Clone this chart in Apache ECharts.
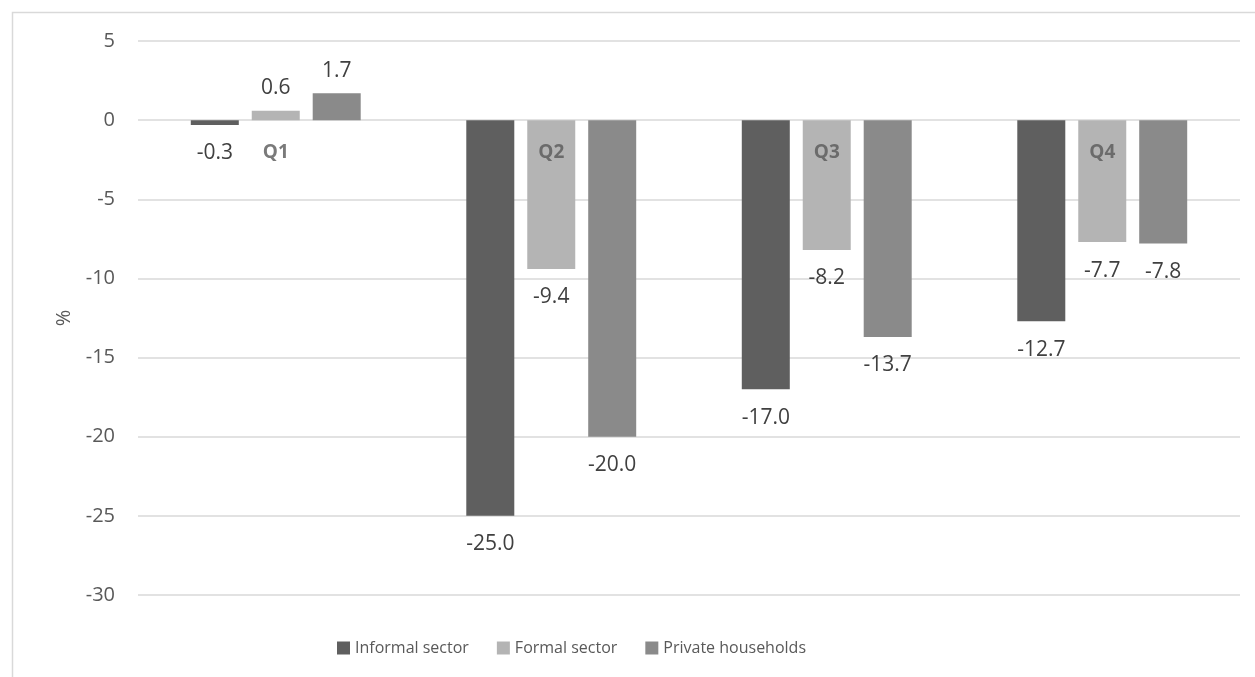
<!DOCTYPE html>
<html>
<head>
<meta charset="utf-8">
<script src="https://cdn.jsdelivr.net/npm/echarts@6/dist/echarts.min.js"></script>
<style>
html,body{margin:0;padding:0;background:#fff;}
#chart{width:1255px;height:677px;}
</style>
</head>
<body>
<div id="chart"></div>
<script>
var categories = ['Q1', 'Q2', 'Q3', 'Q4'];
var informal = [-0.3, -25.0, -17.0, -12.7];
var formal = [0.6, -9.4, -8.2, -7.7];
var privateHH = [1.7, -20.0, -13.7, -7.8];
var seriesNames = ['Informal sector', 'Formal sector', 'Private households'];
var colors = ['#5f5f5f', '#b4b4b4', '#8a8a8a'];
var baseline = 0;

var FONT = 'Open Sans';

function mkData(arr) {
  return arr.map(function (v) {
    return {
      value: v,
      label: v < 0 ? { position: 'bottom', distance: 18 } : { position: 'top', distance: 12 }
    };
  });
}

function mkSeries(name, arr, color) {
  return {
    name: name,
    type: 'bar',
    barWidth: 48,
    barGap: '27%',
    itemStyle: { color: color },
    label: {
      show: true,
      fontFamily: FONT,
      fontSize: 21,
      color: '#404040',
      formatter: function (p) { return p.value.toFixed(1); }
    },
    data: mkData(arr)
  };
}

var chart = echarts.init(document.getElementById('chart'), null, { renderer: 'canvas' });
chart.setOption({
  animation: false,
  backgroundColor: '#ffffff',
  textStyle: { fontFamily: FONT },
  graphic: [{
    type: 'rect',
    left: 10, top: 10,
    shape: { width: 1300, height: 700 },
    style: { fill: 'none', stroke: '#d9d9d9', lineWidth: 1.5 },
    silent: true
  }],
  grid: { left: 138, right: 15, top: 41, bottom: 82 },
  legend: {
    left: 337,
    top: 640,
    padding: 0,
    itemWidth: 13,
    itemHeight: 13,
    itemGap: 28,
    icon: 'rect',
    textStyle: { fontFamily: FONT, fontSize: 16, color: '#595959' },
    data: seriesNames
  },
  xAxis: {
    type: 'category',
    data: categories,
    axisLine: { show: false },
    axisTick: { show: false },
    axisLabel: { show: false },
    splitLine: { show: false }
  },
  yAxis: {
    type: 'value',
    min: -30,
    max: 5,
    interval: 5,
    name: '%',
    nameLocation: 'middle',
    nameRotate: 90,
    nameGap: 64,
    nameTextStyle: { fontFamily: FONT, fontSize: 20, color: '#595959' },
    axisLine: { show: false },
    axisTick: { show: false },
    axisLabel: { fontFamily: FONT, fontSize: 20, color: '#595959', margin: 23 },
    splitLine: { lineStyle: { color: '#d9d9d9', width: 1.5 } }
  },
  series: [
    mkSeries(seriesNames[0], informal, colors[0]),
    mkSeries(seriesNames[1], formal, colors[1]),
    mkSeries(seriesNames[2], privateHH, colors[2]),
    {
      name: 'categoryLabels',
      type: 'scatter',
      symbolSize: 0,
      z: 10,
      silent: true,
      label: {
        show: true,
        position: 'bottom',
        distance: 23,
        fontFamily: FONT,
        fontSize: 19,
        fontWeight: 'bold',
        color: '#595959',
        formatter: function (p) { return p.name; }
      },
      data: categories.map(function (c) { return [c, baseline]; })
    }
  ]
});
</script>
</body>
</html>
